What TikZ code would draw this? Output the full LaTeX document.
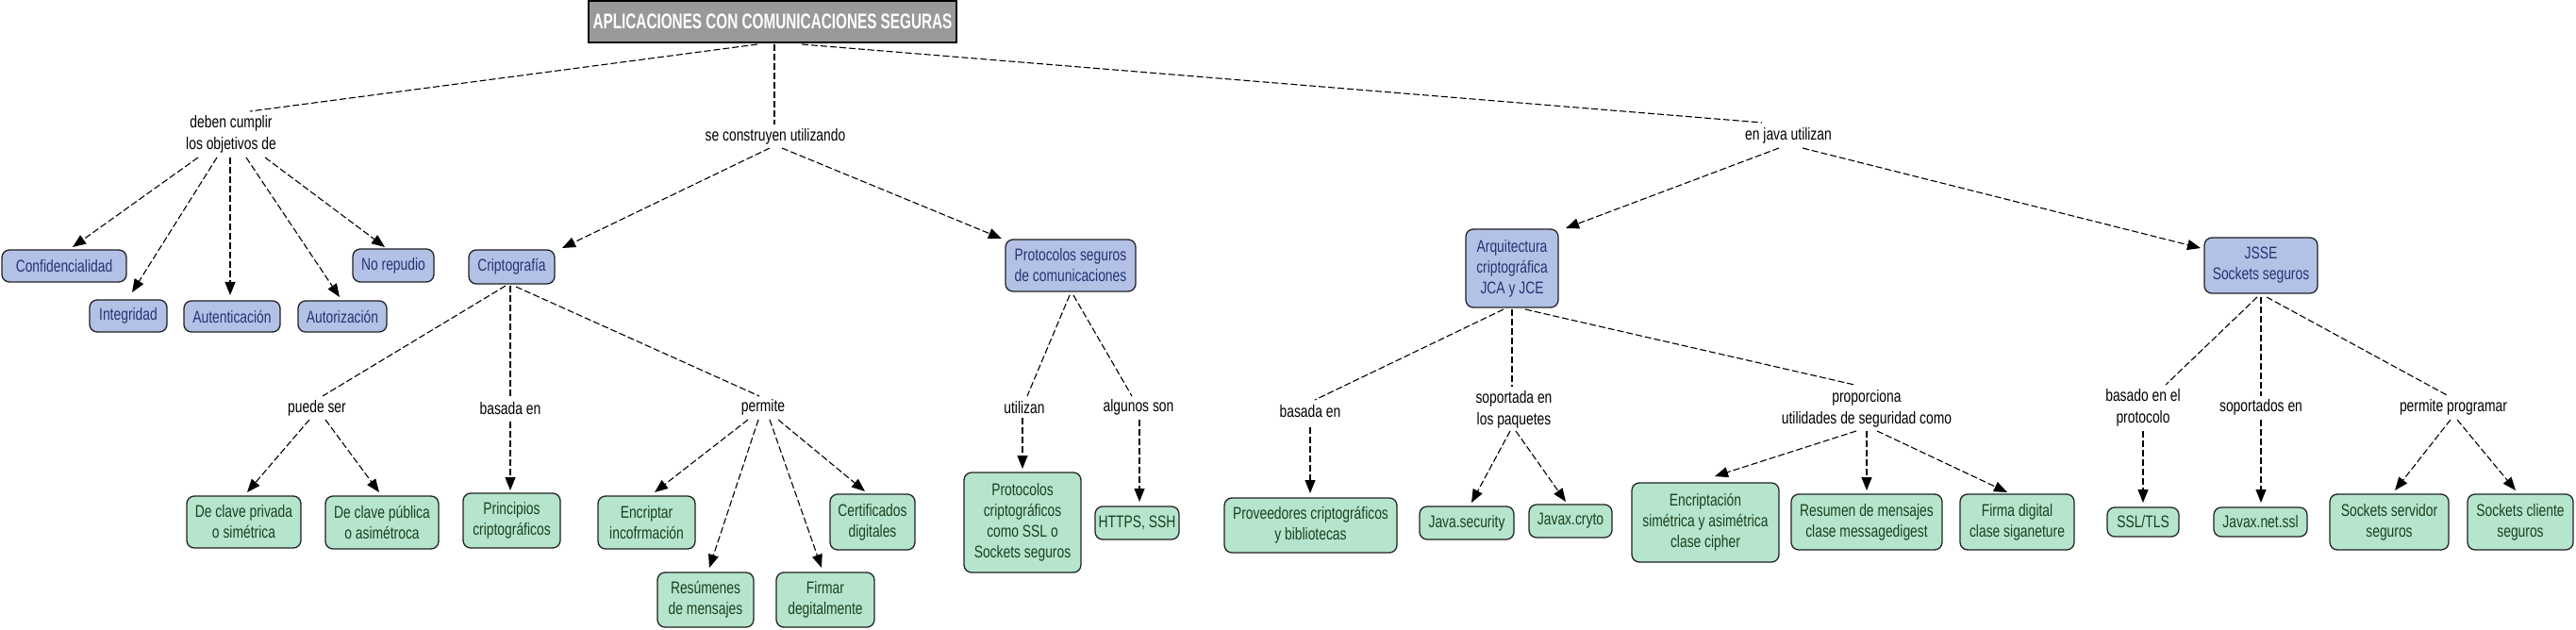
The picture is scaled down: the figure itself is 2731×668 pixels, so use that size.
\documentclass[tikz,border=0pt]{standalone}
\usepackage{fontspec}
\setmainfont{Liberation Sans}[FakeStretch=0.77]
\newfontfamily\titlefont{Liberation Sans}[FakeStretch=0.68]
\usetikzlibrary{arrows.meta}
\definecolor{bluefill}{HTML}{B3C1E6}
\definecolor{bluetext}{HTML}{263372}
\definecolor{greenfill}{HTML}{B5E5CD}
\definecolor{greentext}{HTML}{1C401E}
\definecolor{boxline}{HTML}{222222}
\definecolor{rootfill}{HTML}{999999}
\begin{document}
\begin{tikzpicture}[x=1pt,y=-1pt,
  concept/.style={draw=boxline, line width=1.3pt, rounded corners=8pt, align=center, inner sep=2pt, font=\fontsize{18}{22}\selectfont},
  bluec/.style={concept, fill=bluefill, text=bluetext},
  greenc/.style={concept, fill=greenfill, text=greentext},
  linkp/.style={align=center, inner sep=1pt, text=black, font=\fontsize{18}{23}\selectfont},
  conn/.style={draw=black, dash pattern=on 7pt off 3pt, line width=1.1pt},
  arr/.style={conn, -{Triangle[length=14pt,width=11pt]}}]
\useasboundingbox (0,0) rectangle (2731,668);
\fill[white] (0,0) rectangle (2731,668);

% root
\node[draw=black, line width=1.5pt, fill=rootfill, text=white, minimum width=390pt, minimum height=44pt, inner sep=0pt, font=\titlefont\bfseries\fontsize{22.5}{26}\selectfont] (root) at (819,23) {APLICACIONES CON COMUNICACIONES SEGURAS};

% linking phrases
\node[linkp] (deben) at (245,142) {deben cumplir\\los objetivos de};
\node[linkp] (constr) at (822,145) {se construyen utilizando};
\node[linkp] (java) at (1896,144) {en java utilizan};
\node[linkp] (puede) at (336,433) {puede ser};
\node[linkp] (basada1) at (541,433) {basada en};
\node[linkp] (permite) at (809,432) {permite};
\node[linkp] (utilizan) at (1086,432) {utilizan};
\node[linkp] (algunos) at (1207,432) {algunos son};
\node[linkp] (basada2) at (1389,436) {basada en};
\node[linkp] (soportada) at (1605,434) {soportada en\\los paquetes};
\node[linkp] (proporciona) at (1979,433) {proporciona\\utilidades de seguridad como};
\node[linkp] (basado) at (2272,432) {basado en el\\protocolo};
\node[linkp] (soportados) at (2397,432) {soportados en};
\node[linkp] (programar) at (2601,432) {permite programar};

% blue concepts
\node[bluec, minimum width=132pt, minimum height=34pt] (conf) at (68,282) {Confidencialidad};
\node[bluec, minimum width=82pt, minimum height=34pt] (integ) at (136,335) {Integridad};
\node[bluec, minimum width=102pt, minimum height=33pt] (auten) at (246,335.5) {Autenticación};
\node[bluec, minimum width=94pt, minimum height=33pt] (autor) at (363,335.5) {Autorización};
\node[bluec, minimum width=86pt, minimum height=35pt] (norep) at (417,281.5) {No repudio};
\node[bluec, minimum width=91pt, minimum height=36pt] (cripto) at (542.5,283) {Criptografía};
\node[bluec, minimum width=138pt, minimum height=55pt] (protseg) at (1135,281.5) {Protocolos seguros\\de comunicaciones};
\node[bluec, minimum width=98pt, minimum height=83pt] (jca) at (1603,284.5) {Arquitectura\\criptográfica\\JCA y JCE};
\node[bluec, minimum width=120pt, minimum height=59pt] (jsse) at (2397,281.5) {JSSE\\Sockets seguros};

% green concepts
\node[greenc, minimum width=121pt, minimum height=55pt] (privada) at (258.5,553.5) {De clave privada\\o simétrica};
\node[greenc, minimum width=120pt, minimum height=56pt] (publica) at (405,554) {De clave pública\\o asimétroca};
\node[greenc, minimum width=103pt, minimum height=58pt] (princ) at (542.5,552) {Principios\\criptográficos};
\node[greenc, minimum width=103pt, minimum height=56pt] (encrip) at (685.5,554) {Encriptar\\incofrmación};
\node[greenc, minimum width=102pt, minimum height=58pt] (resum) at (748,636) {Resúmenes\\de mensajes};
\node[greenc, minimum width=104pt, minimum height=58pt] (firmar) at (875,636) {Firmar\\degitalmente};
\node[greenc, minimum width=90pt, minimum height=59pt] (certif) at (925,553.5) {Certificados\\digitales};
\node[greenc, minimum width=124pt, minimum height=106pt] (protcrip) at (1084,554) {Protocolos\\criptográficos\\como SSL o\\Sockets seguros};
\node[greenc, minimum width=89pt, minimum height=35pt] (https) at (1205.5,554.5) {HTTPS, SSH};
\node[greenc, minimum width=183pt, minimum height=58pt] (prov) at (1389.5,557) {Proveedores criptográficos\\y bibliotecas};
\node[greenc, minimum width=100pt, minimum height=35pt] (javasec) at (1555,554.5) {Java.security};
\node[greenc, minimum width=88pt, minimum height=35pt] (javax) at (1665,552.5) {Javax.cryto};
\node[greenc, minimum width=156pt, minimum height=84pt] (encsim) at (1808,554) {Encriptación\\simétrica y asimétrica\\clase cipher};
\node[greenc, minimum width=160pt, minimum height=59pt] (resmsg) at (1979,553.5) {Resumen de mensajes\\clase messagedigest};
\node[greenc, minimum width=121pt, minimum height=59pt] (firmadig) at (2138.5,553.5) {Firma digital\\clase siganeture};
\node[greenc, minimum width=76pt, minimum height=31pt] (ssl) at (2272,553.5) {SSL/TLS};
\node[greenc, minimum width=99pt, minimum height=31pt] (javaxnet) at (2396.5,553.5) {Javax.net.ssl};
\node[greenc, minimum width=126pt, minimum height=59pt] (sserv) at (2533,553.5) {Sockets servidor\\seguros};
\node[greenc, minimum width=112pt, minimum height=59pt] (scli) at (2672,553.5) {Sockets cliente\\seguros};

% connectors from root
\draw[conn] ([shift={(-16,24)}]root.center) -- ([shift={(20,-24)}]deben.center);
\draw[conn] ([shift={(2,24)}]root.center) -- ([shift={(-1,-13)}]constr.center);
\draw[conn] ([shift={(31,24)}]root.center) -- ([shift={(-28,-14)}]java.center);

% deben cumplir
\draw[arr] ([shift={(-35,25)}]deben.center) -- ([shift={(9,-20)}]conf.center);
\draw[arr] ([shift={(-15,25)}]deben.center) -- ([shift={(4,-25)}]integ.center);
\draw[arr] ([shift={(-1,25)}]deben.center) -- ([shift={(-2,-22.5)}]auten.center);
\draw[arr] ([shift={(16,25)}]deben.center) -- ([shift={(-3,-20.5)}]autor.center);
\draw[arr] ([shift={(36,25)}]deben.center) -- ([shift={(-9,-19.5)}]norep.center);

% se construyen utilizando
\draw[arr] ([shift={(-6,12)}]constr.center) -- ([shift={(53.5,-20)}]cripto.center);
\draw[arr] ([shift={(7,12)}]constr.center) -- ([shift={(-73,-28.5)}]protseg.center);

% en java utilizan
\draw[arr] ([shift={(-10,13)}]java.center) -- ([shift={(57,-42.5)}]jca.center);
\draw[arr] ([shift={(15,13)}]java.center) -- ([shift={(-64,-18.5)}]jsse.center);

% criptografia
\draw[conn] ([shift={(-6.5,20)}]cripto.center) -- ([shift={(6,-13)}]puede.center);
\draw[conn] ([shift={(-1.5,20)}]cripto.center) -- ([shift={(0,-11)}]basada1.center);
\draw[conn] ([shift={(4.5,21)}]cripto.center) -- ([shift={(-4,-12)}]permite.center);
\draw[arr] ([shift={(-8,12)}]puede.center) -- ([shift={(3.5,-31.5)}]privada.center);
\draw[arr] ([shift={(9,12)}]puede.center) -- ([shift={(-3,-32)}]publica.center);
\draw[arr] ([shift={(0,14)}]basada1.center) -- ([shift={(-1.5,-32)}]princ.center);
\draw[arr] ([shift={(-16,13)}]permite.center) -- ([shift={(8.5,-32)}]encrip.center);
\draw[arr] ([shift={(-5,13)}]permite.center) -- ([shift={(4,-34)}]resum.center);
\draw[arr] ([shift={(7,13)}]permite.center) -- ([shift={(-4,-34)}]firmar.center);
\draw[arr] ([shift={(16,13)}]permite.center) -- ([shift={(-8,-32.5)}]certif.center);

% protocolos seguros
\draw[conn] ([shift={(-1,31.5)}]protseg.center) -- ([shift={(3,-12)}]utilizan.center);
\draw[conn] ([shift={(3,31.5)}]protseg.center) -- ([shift={(-7,-12)}]algunos.center);
\draw[arr] ([shift={(-2,11)}]utilizan.center) -- ([shift={(0,-57)}]protcrip.center);
\draw[arr] ([shift={(1,13)}]algunos.center) -- ([shift={(2.5,-22.5)}]https.center);

% arquitectura JCA
\draw[conn] ([shift={(-9,43.5)}]jca.center) -- ([shift={(5,-12)}]basada2.center);
\draw[conn] ([shift={(0,43.5)}]jca.center) -- ([shift={(-2,-24)}]soportada.center);
\draw[conn] ([shift={(14,43.5)}]jca.center) -- ([shift={(-13,-25)}]proporciona.center);
\draw[arr] ([shift={(0,17)}]basada2.center) -- ([shift={(-0.5,-34)}]prov.center);
\draw[arr] ([shift={(-4,23)}]soportada.center) -- ([shift={(5,-21.5)}]javasec.center);
\draw[arr] ([shift={(2,23)}]soportada.center) -- ([shift={(-5,-20.5)}]javax.center);
\draw[arr] ([shift={(-11,24)}]proporciona.center) -- ([shift={(10,-49)}]encsim.center);
\draw[arr] ([shift={(0,24)}]proporciona.center) -- ([shift={(0,-33.5)}]resmsg.center);
\draw[arr] ([shift={(11,24)}]proporciona.center) -- ([shift={(-10.5,-31.5)}]firmadig.center);

% JSSE
\draw[conn] ([shift={(-4,33.5)}]jsse.center) -- ([shift={(24,-24)}]basado.center);
\draw[conn] ([shift={(0,33.5)}]jsse.center) -- ([shift={(0,-12)}]soportados.center);
\draw[conn] ([shift={(6,33.5)}]jsse.center) -- ([shift={(-5,-12)}]programar.center);
\draw[arr] ([shift={(0,25)}]basado.center) -- ([shift={(0,-20.5)}]ssl.center);
\draw[arr] ([shift={(0,13)}]soportados.center) -- ([shift={(0.5,-20.5)}]javaxnet.center);
\draw[arr] ([shift={(-3,13)}]programar.center) -- ([shift={(6,-33.5)}]sserv.center);
\draw[arr] ([shift={(4,13)}]programar.center) -- ([shift={(-5,-33.5)}]scli.center);
\end{tikzpicture}
\end{document}
